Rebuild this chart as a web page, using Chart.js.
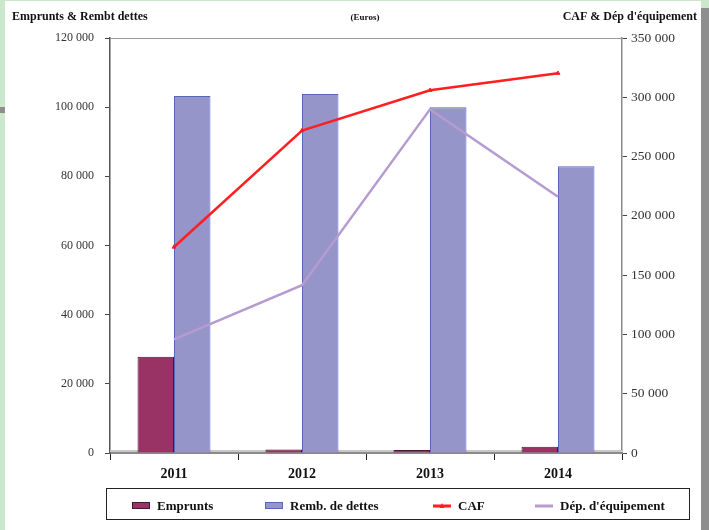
<!DOCTYPE html>
<html>
<head>
<meta charset="utf-8">
<script src="https://cdn.jsdelivr.net/npm/chart.js@4.4.1/dist/chart.umd.min.js"></script>
<style>
  html, body { margin: 0; padding: 0; }
  body { width: 709px; height: 530px; background: #cce8cc; position: relative; overflow: hidden; }
  #page { position: absolute; left: 5px; top: 1px; width: 696px; height: 529px; background: #fff; }
  #barRight { position: absolute; left: 701px; top: 8px; width: 8px; height: 522px; background: #8e8e8e; }
  #barLeft { position: absolute; left: 0; top: 107px; width: 5px; height: 6px; background: #8e8e8e; }
  #wrap { position: absolute; left: 0; top: 0; width: 709px; height: 530px; }
</style>
</head>
<body>
<div id="page"></div>
<div id="barRight"></div>
<div id="barLeft"></div>
<div id="wrap"><canvas id="chart" width="709" height="530"></canvas></div>
<script>
// donnees
const annees = ["2011", "2012", "2013", "2014"];
const emprunts = [27800, 1000, 900, 1800];
const rembDettes = [103200, 103800, 100000, 82900];
const caf = [173700, 272000, 305900, 320300];
const depEquip = [95800, 141500, 289800, 216100];

const ticksGauche = [0, 20000, 40000, 60000, 80000, 100000, 120000];
const ticksDroite = [0, 50000, 100000, 150000, 200000, 250000, 300000, 350000];

const serif = "'Liberation Serif', 'Times New Roman', serif";

function fmt(v) {
  return String(v).replace(/\B(?=(\d{3})+(?!\d))/g, " ");
}

// titres + cadre + legende
const decor = {
  id: "decor",
  beforeDatasetsDraw(chart) {
    const ctx = chart.ctx, a = chart.chartArea;
    ctx.save();
    // ligne du haut
    ctx.strokeStyle = "#9a9a9a";
    ctx.lineWidth = 1;
    ctx.beginPath();
    ctx.moveTo(a.left, a.top + 0.5);
    ctx.lineTo(a.right, a.top + 0.5);
    ctx.stroke();
    // ombre de l'axe zero
    ctx.strokeStyle = "#c8c8c8";
    ctx.lineWidth = 2;
    ctx.beginPath();
    ctx.moveTo(a.left, a.bottom - 2);
    ctx.lineTo(a.right, a.bottom - 2);
    ctx.stroke();
    ctx.restore();
  },
  afterDraw(chart) {
    const ctx = chart.ctx;
    ctx.save();
    ctx.fillStyle = "#111";
    ctx.textBaseline = "alphabetic";
    ctx.font = "bold 12px " + serif;
    ctx.textAlign = "left";
    ctx.fillText("Emprunts & Rembt dettes", 12, 20);
    ctx.textAlign = "right";
    ctx.fillText("CAF & Dép d'équipement", 697, 20);
    ctx.font = "bold 9px " + serif;
    ctx.textAlign = "center";
    ctx.fillText("(Euros)", 365, 20);

    // legende
    ctx.strokeStyle = "#222";
    ctx.lineWidth = 1;
    ctx.strokeRect(106.5, 488.5, 583, 31);
    const xs = [132, 265, 433, 535];
    const y = 506;
    ctx.font = "bold 13px " + serif;
    ctx.textAlign = "left";
    ctx.textBaseline = "middle";
    chart.data.datasets.forEach(function (ds, i) {
      const x = xs[i];
      if (ds.type === "line") {
        ctx.strokeStyle = ds.borderColor;
        ctx.lineWidth = 3;
        ctx.beginPath();
        ctx.moveTo(x, y);
        ctx.lineTo(x + 18, y);
        ctx.stroke();
        if (ds.pointRadius > 0) {
          ctx.fillStyle = ds.borderColor;
          ctx.beginPath();
          ctx.moveTo(x + 9, y - 3);
          ctx.lineTo(x + 11.5, y + 2);
          ctx.lineTo(x + 6.5, y + 2);
          ctx.closePath();
          ctx.fill();
        }
      } else {
        ctx.fillStyle = ds.backgroundColor;
        ctx.fillRect(x, y - 4, 18, 7);
        ctx.strokeStyle = ds.borderColor;
        ctx.lineWidth = 1;
        ctx.strokeRect(x + 0.5, y - 3.5, 17, 6);
      }
      ctx.fillStyle = "#111";
      ctx.fillText(ds.label, x + 25, y + 1);
    });
    ctx.restore();
  }
};

const data = {
  labels: annees,
  datasets: [
    {
      type: "bar",
      label: "Emprunts",
      data: emprunts,
      yAxisID: "yG",
      backgroundColor: "#993366",
      borderColor: "#4a1530",
      borderWidth: 1,
      categoryPercentage: 0.57,
      barPercentage: 1,
      order: 2
    },
    {
      type: "bar",
      label: "Remb. de dettes",
      data: rembDettes,
      yAxisID: "yG",
      backgroundColor: "#9595c9",
      borderColor: "#5668bc",
      borderWidth: 1,
      categoryPercentage: 0.57,
      barPercentage: 1,
      order: 2
    },
    {
      type: "line",
      label: "CAF",
      data: caf,
      yAxisID: "yD",
      borderColor: "#ff1f1f",
      backgroundColor: "#ff1f1f",
      borderWidth: 2.5,
      pointStyle: "triangle",
      pointRadius: 2.2,
      pointBorderWidth: 1,
      tension: 0,
      order: 0
    },
    {
      type: "line",
      label: "Dép. d'équipement",
      data: depEquip,
      yAxisID: "yD",
      borderColor: "#b69bd1",
      backgroundColor: "#b69bd1",
      borderWidth: 2.5,
      pointRadius: 0,
      tension: 0,
      order: 1
    }
  ]
};

const config = {
  type: "bar",
  data: data,
  plugins: [decor],
  options: {
    responsive: false,
    animation: false,
    layout: { padding: { top: 38, left: 0, right: 0, bottom: 0 } },
    plugins: {
      legend: { display: false },
      tooltip: { enabled: false }
    },
    scales: {
      x: {
        afterFit: function (s) { s.height = 77; },
        grid: { display: true, drawOnChartArea: false, tickLength: 7, color: "#222", offset: true },
        border: { display: true, color: "#8a8a8a", width: 2 },
        ticks: { color: "#111", padding: 6, font: { family: serif, size: 14, weight: "bold" } }
      },
      yG: {
        position: "left",
        min: 0,
        max: 120000,
        afterFit: function (s) { s.width = 110; },
        afterBuildTicks: function (s) { s.ticks = ticksGauche.map(function (v) { return { value: v }; }); },
        grid: { display: true, drawOnChartArea: false, tickLength: 5, color: "#444" },
        border: { display: true, color: "#555", width: 1.5 },
        ticks: { color: "#333", padding: 11, font: { family: serif, size: 12 }, callback: fmt }
      },
      yD: {
        position: "right",
        min: 0,
        max: 350000,
        afterFit: function (s) { s.width = 87; },
        afterBuildTicks: function (s) { s.ticks = ticksDroite.map(function (v) { return { value: v }; }); },
        grid: { display: true, drawOnChartArea: false, tickLength: 5, color: "#444" },
        border: { display: true, color: "#8a8a8a", width: 1.5 },
        ticks: { color: "#333", padding: 4, font: { family: serif, size: 13.5 }, callback: fmt }
      }
    }
  }
};

var chart = new Chart(document.getElementById("chart"), config);
</script>
</body>
</html>
